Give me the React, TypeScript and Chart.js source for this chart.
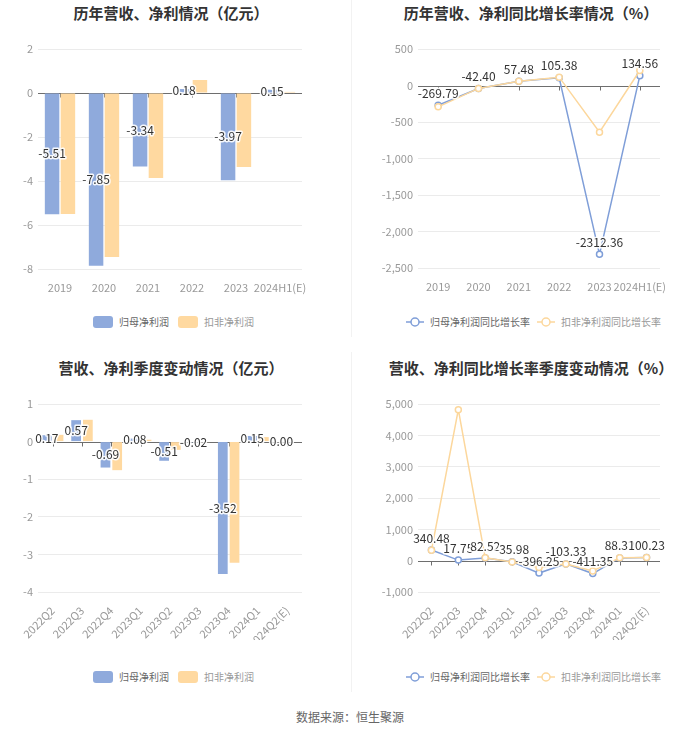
import React, { useEffect, useRef } from 'react';
import { Chart, registerables } from 'chart.js';

Chart.register(...registerables);

// ---------- data ----------
const yearCategories = ['2019', '2020', '2021', '2022', '2023', '2024H1(E)'];
const yearNetProfit = [-5.51, -7.85, -3.34, 0.18, -3.97, 0.15];
const yearDeductedProfit = [-5.5, -7.45, -3.86, 0.59, -3.36, 0.05];
const yearNetGrowth = [-269.79, -42.4, 57.48, 105.38, -2312.36, 134.56];
const yearDeductedGrowth = [-292, -40, 59, 114, -640, 205];

const quarterCategories = ['2022Q2', '2022Q3', '2022Q4', '2023Q1', '2023Q2', '2023Q3', '2023Q4', '2024Q1', '2024Q2(E)'];
const quarterNetProfit = [0.17, 0.57, -0.69, 0.08, -0.51, -0.02, -3.52, 0.15, 0.0];
const quarterDeductedProfit = [0.18, 0.58, -0.76, 0.05, -0.22, -0.01, -3.22, 0.12, 0.0];
const quarterNetGrowth = [340.48, 17.75, 82.52, -35.98, -396.25, -103.33, -411.35, 88.32, 100.23];
const quarterDeductedGrowth = [330, 4820, 90, -40, -220, -110, -330, 90, 100];

const seriesNames = ['归母净利润', '扣非净利润'];
const growthNames = ['归母净利润同比增长率', '扣非净利润同比增长率'];

// ---------- styles ----------
const FONT = '"Noto Sans CJK SC", "Noto Sans", sans-serif';
const BLUE_BAR = '#8FAADC';
const ORANGE_BAR = '#FFD9A0';
const BLUE_LINE = '#7F9ED8';
const ORANGE_LINE = '#FCD79C';

const zeroAxisPlugin = {
  id: 'zeroAxis',
  beforeDatasetsDraw(chart: any) {
    const { ctx, chartArea } = chart;
    const xs = chart.scales.x;
    const ys = chart.scales.y;
    const y0 = Math.round(ys.getPixelForValue(0)) + 0.5;
    ctx.save();
    ctx.strokeStyle = '#6E6E6E';
    ctx.lineWidth = 1;
    ctx.beginPath();
    ctx.moveTo(chartArea.left, y0);
    ctx.lineTo(chartArea.right, y0);
    for (let i = 0; i < xs.ticks.length; i++) {
      const px = Math.round(xs.getPixelForTick(i)) + 0.5;
      ctx.moveTo(px, y0);
      ctx.lineTo(px, y0 + 4);
    }
    ctx.stroke();
    ctx.restore();
  },
};

const valueLabelPlugin = {
  id: 'valueLabels',
  afterDatasetsDraw(chart: any) {
    const { ctx } = chart;
    const meta = chart.getDatasetMeta(0);
    const data = chart.data.datasets[0].data;
    const isBar = meta.type === 'bar';
    ctx.save();
    ctx.font = `12px ${FONT}`;
    ctx.textAlign = 'center';
    ctx.textBaseline = 'middle';
    ctx.lineJoin = 'round';
    meta.data.forEach((el: any, i: number) => {
      const v = data[i] as number;
      const text = v.toFixed(2);
      const x = el.x;
      const y = isBar ? (el.y + el.base) / 2 : el.y - 12;
      ctx.strokeStyle = 'rgba(255,255,255,0.9)';
      ctx.lineWidth = 3;
      ctx.strokeText(text, x, y);
      ctx.fillStyle = '#333';
      ctx.fillText(text, x, y);
    });
    ctx.restore();
  },
};

type Geo = {
  yWidth: number;
  xHeight: number;
  padTop: number;
  padRight: number;
  min: number;
  max: number;
  step: number;
  rotate: boolean;
};

function makeOptions(g: Geo, barPct: number, catPct: number) {
  return {
    responsive: false,
    animation: false,
    devicePixelRatio: 1,
    layout: { padding: { top: g.padTop, right: g.padRight, left: 0, bottom: 0 } },
    plugins: { legend: { display: false }, title: { display: false }, tooltip: { enabled: false } },
    datasets: { bar: { barPercentage: barPct, categoryPercentage: catPct } },
    scales: {
      x: {
        offset: true,
        grid: { display: false, offset: true },
        border: { display: false },
        ticks: {
          color: '#999',
          font: { size: 11, family: FONT },
          padding: 4,
          autoSkip: false,
          maxRotation: g.rotate ? 45 : 0,
          minRotation: g.rotate ? 45 : 0,
        },
        afterFit: (s: any) => {
          s.height = g.xHeight;
        },
      },
      y: {
        min: g.min,
        max: g.max,
        border: { display: false },
        grid: {
          drawTicks: false,
          color: (c: any) => (c.tick && c.tick.value === 0 ? 'rgba(0,0,0,0)' : '#EBEBEB'),
          lineWidth: 1,
        },
        ticks: {
          stepSize: g.step,
          color: '#999',
          padding: 5,
          font: { size: 11, family: FONT },
          callback: (v: any) => Number(v).toLocaleString('en-US'),
        },
        afterFit: (s: any) => {
          s.width = g.yWidth;
        },
      },
    },
  };
}

function barConfig(labels: string[], a: number[], b: number[], g: Geo, barPct: number, catPct: number) {
  return {
    type: 'bar',
    data: {
      labels,
      datasets: [
        { label: seriesNames[0], data: a, backgroundColor: BLUE_BAR },
        { label: seriesNames[1], data: b, backgroundColor: ORANGE_BAR },
      ],
    },
    options: makeOptions(g, barPct, catPct),
    plugins: [zeroAxisPlugin, valueLabelPlugin],
  };
}

function lineConfig(labels: string[], a: number[], b: number[], g: Geo) {
  const ds = (label: string, data: number[], color: string, order: number) => ({
    label,
    data,
    borderColor: color,
    backgroundColor: color,
    borderWidth: 1.5,
    tension: 0,
    pointRadius: 3,
    pointBackgroundColor: '#fff',
    pointBorderColor: color,
    pointBorderWidth: 1.5,
    order,
  });
  return {
    type: 'line',
    data: {
      labels,
      datasets: [ds(growthNames[0], a, BLUE_LINE, 1), ds(growthNames[1], b, ORANGE_LINE, 0)],
    },
    options: makeOptions(g, 0.9, 0.8),
    plugins: [zeroAxisPlugin, valueLabelPlugin],
  };
}

function ChartBox(props: { config: any; left: number; top: number; width: number; height: number }) {
  const ref = useRef<HTMLCanvasElement>(null);
  useEffect(() => {
    const chart = new Chart(ref.current as HTMLCanvasElement, props.config);
    return () => chart.destroy();
  }, []);
  return (
    <canvas
      ref={ref}
      width={props.width}
      height={props.height}
      style={{ position: 'absolute', left: props.left, top: props.top, width: props.width, height: props.height }}
    />
  );
}

function Title(props: { text: string; left: number; top: number; width: number }) {
  return (
    <div
      style={{
        position: 'absolute',
        left: props.left,
        top: props.top,
        width: props.width,
        textAlign: 'center',
        fontFamily: FONT,
        fontWeight: 'bold',
        fontSize: 15,
        lineHeight: '20px',
        color: '#333',
        whiteSpace: 'nowrap',
      }}
    >
      {props.text}
    </div>
  );
}

function BarLegend(props: { left: number; top: number }) {
  const item = (color: string, text: string, textColor: string, ml: number) => (
    <div style={{ display: 'flex', alignItems: 'center', marginLeft: ml }}>
      <div style={{ width: 20, height: 12, borderRadius: 3, background: color }} />
      <span style={{ marginLeft: 6, fontSize: 10, color: textColor, fontFamily: FONT, lineHeight: '12px' }}>{text}</span>
    </div>
  );
  return (
    <div style={{ position: 'absolute', left: props.left, top: props.top, display: 'flex', alignItems: 'center' }}>
      {item(BLUE_BAR, seriesNames[0], '#666', 0)}
      {item(ORANGE_BAR, seriesNames[1], '#999', 9)}
    </div>
  );
}

function LineLegend(props: { left: number; top: number }) {
  const item = (color: string, text: string, textColor: string, ml: number) => (
    <div style={{ display: 'flex', alignItems: 'center', marginLeft: ml }}>
      <svg width={18} height={12} style={{ display: 'block' }}>
        <line x1={0} y1={6} x2={18} y2={6} stroke={color} strokeWidth={1.5} />
        <circle cx={9} cy={6} r={4} fill="#fff" stroke={color} strokeWidth={1.5} />
      </svg>
      <span style={{ marginLeft: 6, fontSize: 10, color: textColor, fontFamily: FONT, lineHeight: '12px' }}>{text}</span>
    </div>
  );
  return (
    <div style={{ position: 'absolute', left: props.left, top: props.top, display: 'flex', alignItems: 'center' }}>
      {item(BLUE_LINE, growthNames[0], '#666', 0)}
      {item(ORANGE_LINE, growthNames[1], '#999', 7)}
    </div>
  );
}

export default function App() {
  const topLeft: Geo = { yWidth: 38, xHeight: 31, padTop: 49, padRight: 48, min: -8, max: 2, step: 2, rotate: false };
  const topRight: Geo = { yWidth: 68, xHeight: 32, padTop: 49, padRight: 40, min: -2500, max: 500, step: 500, rotate: false };
  const botLeft: Geo = { yWidth: 38, xHeight: 48, padTop: 54, padRight: 48, min: -4, max: 1, step: 1, rotate: true };
  const botRight: Geo = { yWidth: 68, xHeight: 48, padTop: 54, padRight: 40, min: -1000, max: 5000, step: 1000, rotate: true };

  return (
    <div style={{ position: 'absolute', left: 0, top: 0, width: 700, height: 734, background: '#fff', overflow: 'hidden' }}>
      <div style={{ position: 'absolute', left: 351, top: 0, width: 1, height: 337, background: '#F2F2F2' }} />
      <div style={{ position: 'absolute', left: 351, top: 352, width: 1, height: 340, background: '#F2F2F2' }} />

      <Title text="历年营收、净利情况（亿元）" left={0} top={3} width={342} />
      <Title text="历年营收、净利同比增长率情况（%）" left={356} top={3} width={350} />
      <Title text="营收、净利季度变动情况（亿元）" left={0} top={358} width={342} />
      <Title text="营收、净利同比增长率季度变动情况（%）" left={356} top={358} width={350} />

      <ChartBox
        config={barConfig(yearCategories, yearNetProfit, yearDeductedProfit, topLeft, 0.915, 0.72)}
        left={0}
        top={0}
        width={350}
        height={300}
      />
      <ChartBox config={lineConfig(yearCategories, yearNetGrowth, yearDeductedGrowth, topRight)} left={350} top={0} width={350} height={300} />
      <ChartBox
        config={barConfig(quarterCategories, quarterNetProfit, quarterDeductedProfit, botLeft, 0.83, 0.8)}
        left={0}
        top={350}
        width={350}
        height={290}
      />
      <ChartBox config={lineConfig(quarterCategories, quarterNetGrowth, quarterDeductedGrowth, botRight)} left={350} top={350} width={350} height={290} />

      <BarLegend left={93} top={316} />
      <LineLegend left={406} top={316} />
      <BarLegend left={93} top={671} />
      <LineLegend left={406} top={671} />

      <div
        style={{
          position: 'absolute',
          left: 0,
          top: 709,
          width: 700,
          textAlign: 'center',
          fontFamily: FONT,
          fontSize: 12,
          lineHeight: '16px',
          color: '#666',
        }}
      >
        数据来源：恒生聚源
      </div>
    </div>
  );
}
